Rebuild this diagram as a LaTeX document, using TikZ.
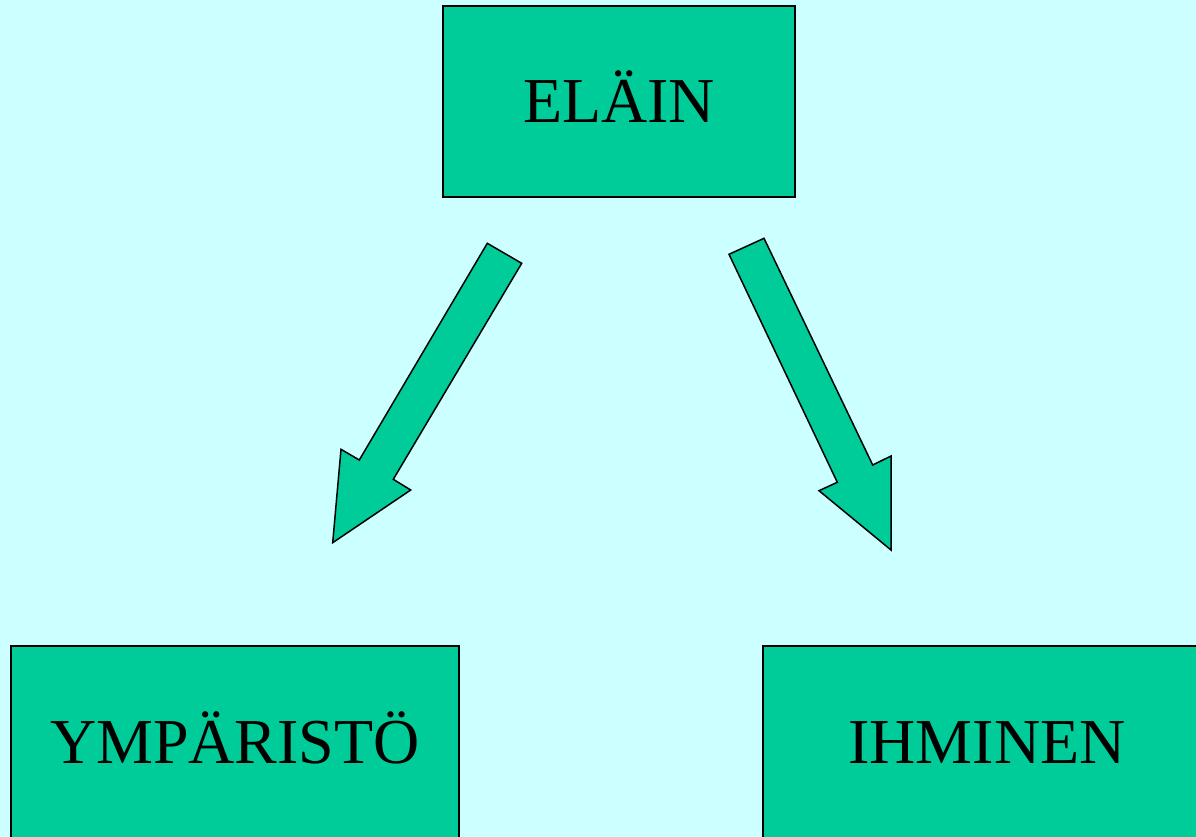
\documentclass[tikz,border=0pt]{standalone}
\usepackage{fontspec}
\setmainfont{Liberation Serif}
\definecolor{bgcol}{HTML}{CCFFFF}
\definecolor{boxcol}{HTML}{00CC99}
\begin{document}
\begin{tikzpicture}[x=1pt,y=-1pt,
  box/.style={draw=black,line width=1.5pt,fill=boxcol,rectangle,
    minimum width=#1,minimum height=191pt,inner sep=0pt,
    text height=43pt,text depth=0pt,font=\fontsize{64}{70}\selectfont},
  lowbox/.style={box=#1,minimum height=200pt,text depth=9pt},
  blockarrow/.style={draw=black,line width=1.5pt,fill=boxcol,line join=miter}]
\useasboundingbox (0,0) rectangle (1196,837);
\clip (0,0) rectangle (1196,837);
\fill[bgcol] (0,0) rectangle (1196,837);
\node[box=352pt] (elain) at (619,101.5) {ELÄIN};
\node[lowbox=448pt] (ymp) at (235,746) {YMPÄRISTÖ};
\node[lowbox=448pt] (ihm) at (987,746) {IHMINEN};
\draw[blockarrow] (487.3,243.3) -- (521.7,263.3) -- (393.3,479.3) -- (410.7,490)
  -- (332.7,542.7) -- (341,449.3) -- (359.3,460) -- cycle;
\draw[blockarrow] (729,254.3) -- (764,238.3) -- (872.7,465) -- (891,456)
  -- (891,550) -- (819,490.7) -- (837.3,482.3) -- cycle;
\end{tikzpicture}
\end{document}
